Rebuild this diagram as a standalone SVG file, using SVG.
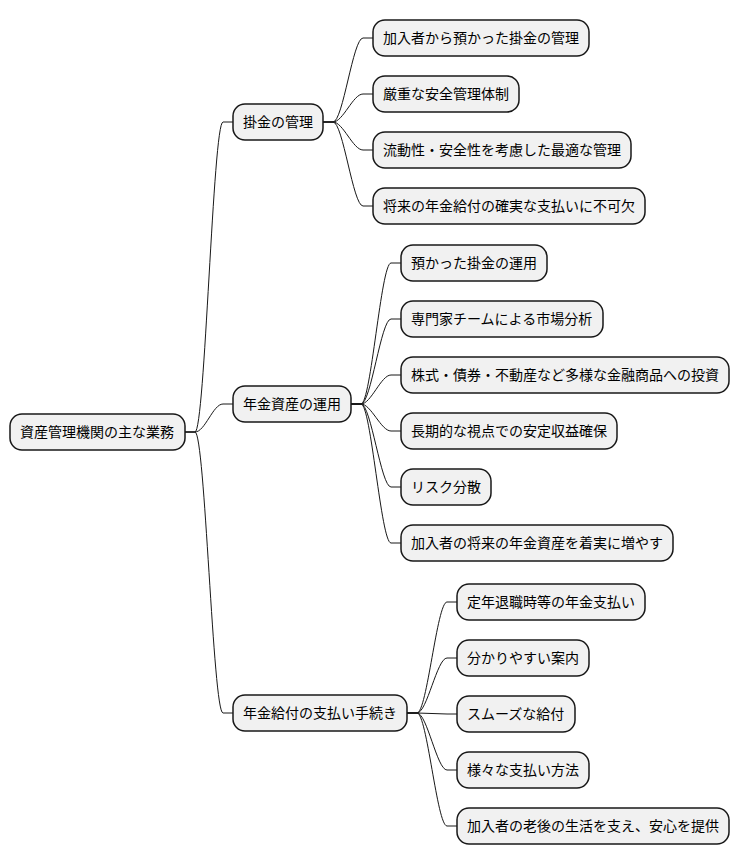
<svg xmlns="http://www.w3.org/2000/svg" width="740" height="865" viewBox="0 0 740 865">
<style>
.n rect{fill:#F1F1F1;stroke:#181818;stroke-width:1.5}
.n text{font-family:"Noto Sans CJK JP","Noto Sans",sans-serif;font-size:14px;fill:#000000}
.c path{fill:none;stroke:#181818;stroke-width:1}
</style>
<rect width="740" height="865" fill="#FFFFFF"/>
<g id="connectors" class="c">
<path d="M185,432 L195,432 C205,432 213,122 223,122 L233,122"/>
<path d="M185,432 L195,432 C205,432 213,404 223,404 L233,404"/>
<path d="M185,432 L195,432 C205,432 213,713 223,713 L233,713"/>
<path d="M323,122 L333,122 C343,122 353,38 363,38 L373,38"/>
<path d="M323,122 L333,122 C343,122 353,94 363,94 L373,94"/>
<path d="M323,122 L333,122 C343,122 353,150 363,150 L373,150"/>
<path d="M323,122 L333,122 C343,122 353,206 363,206 L373,206"/>
<path d="M351,404 L361,404 C371,404 381,263 391,263 L401,263"/>
<path d="M351,404 L361,404 C371,404 381,319 391,319 L401,319"/>
<path d="M351,404 L361,404 C371,404 381,375 391,375 L401,375"/>
<path d="M351,404 L361,404 C371,404 381,431 391,431 L401,431"/>
<path d="M351,404 L361,404 C371,404 381,487 391,487 L401,487"/>
<path d="M351,404 L361,404 C371,404 381,543 391,543 L401,543"/>
<path d="M407,713 L417,713 C427,713 437,602 447,602 L457,602"/>
<path d="M407,713 L417,713 C427,713 437,658 447,658 L457,658"/>
<path d="M407,713 L417,713 C427,713 437,714 447,714 L457,714"/>
<path d="M407,713 L417,713 C427,713 437,770 447,770 L457,770"/>
<path d="M407,713 L417,713 C427,713 437,826 447,826 L457,826"/>
</g>
<g id="root" class="n"><rect x="10" y="414" width="175" height="36" rx="12"/><text x="20" y="437">資産管理機関の主な業務</text></g>
<g id="n1" class="n"><rect x="233" y="104" width="90" height="36" rx="12"/><text x="243" y="127">掛金の管理</text></g>
<g id="n1a" class="n"><rect x="373" y="20" width="216" height="36" rx="12"/><text x="383" y="43">加入者から預かった掛金の管理</text></g>
<g id="n1b" class="n"><rect x="373" y="76" width="146" height="36" rx="12"/><text x="383" y="99">厳重な安全管理体制</text></g>
<g id="n1c" class="n"><rect x="373" y="132" width="258" height="36" rx="12"/><text x="383" y="155">流動性・安全性を考慮した最適な管理</text></g>
<g id="n1d" class="n"><rect x="373" y="188" width="272" height="36" rx="12"/><text x="383" y="211">将来の年金給付の確実な支払いに不可欠</text></g>
<g id="n2" class="n"><rect x="233" y="386" width="118" height="36" rx="12"/><text x="243" y="409">年金資産の運用</text></g>
<g id="n2a" class="n"><rect x="401" y="245" width="146" height="36" rx="12"/><text x="411" y="268">預かった掛金の運用</text></g>
<g id="n2b" class="n"><rect x="401" y="301" width="202" height="36" rx="12"/><text x="411" y="324">専門家チームによる市場分析</text></g>
<g id="n2c" class="n"><rect x="401" y="357" width="328" height="36" rx="12"/><text x="411" y="380">株式・債券・不動産など多様な金融商品への投資</text></g>
<g id="n2d" class="n"><rect x="401" y="413" width="216" height="36" rx="12"/><text x="411" y="436">長期的な視点での安定収益確保</text></g>
<g id="n2e" class="n"><rect x="401" y="469" width="90" height="36" rx="12"/><text x="411" y="492">リスク分散</text></g>
<g id="n2f" class="n"><rect x="401" y="525" width="272" height="36" rx="12"/><text x="411" y="548">加入者の将来の年金資産を着実に増やす</text></g>
<g id="n3" class="n"><rect x="233" y="695" width="174" height="36" rx="12"/><text x="243" y="718">年金給付の支払い手続き</text></g>
<g id="n3a" class="n"><rect x="457" y="584" width="188" height="36" rx="12"/><text x="467" y="607">定年退職時等の年金支払い</text></g>
<g id="n3b" class="n"><rect x="457" y="640" width="132" height="36" rx="12"/><text x="467" y="663">分かりやすい案内</text></g>
<g id="n3c" class="n"><rect x="457" y="696" width="118" height="36" rx="12"/><text x="467" y="719">スムーズな給付</text></g>
<g id="n3d" class="n"><rect x="457" y="752" width="132" height="36" rx="12"/><text x="467" y="775">様々な支払い方法</text></g>
<g id="n3e" class="n"><rect x="457" y="808" width="272" height="36" rx="12"/><text x="467" y="831">加入者の老後の生活を支え、安心を提供</text></g>
</svg>
